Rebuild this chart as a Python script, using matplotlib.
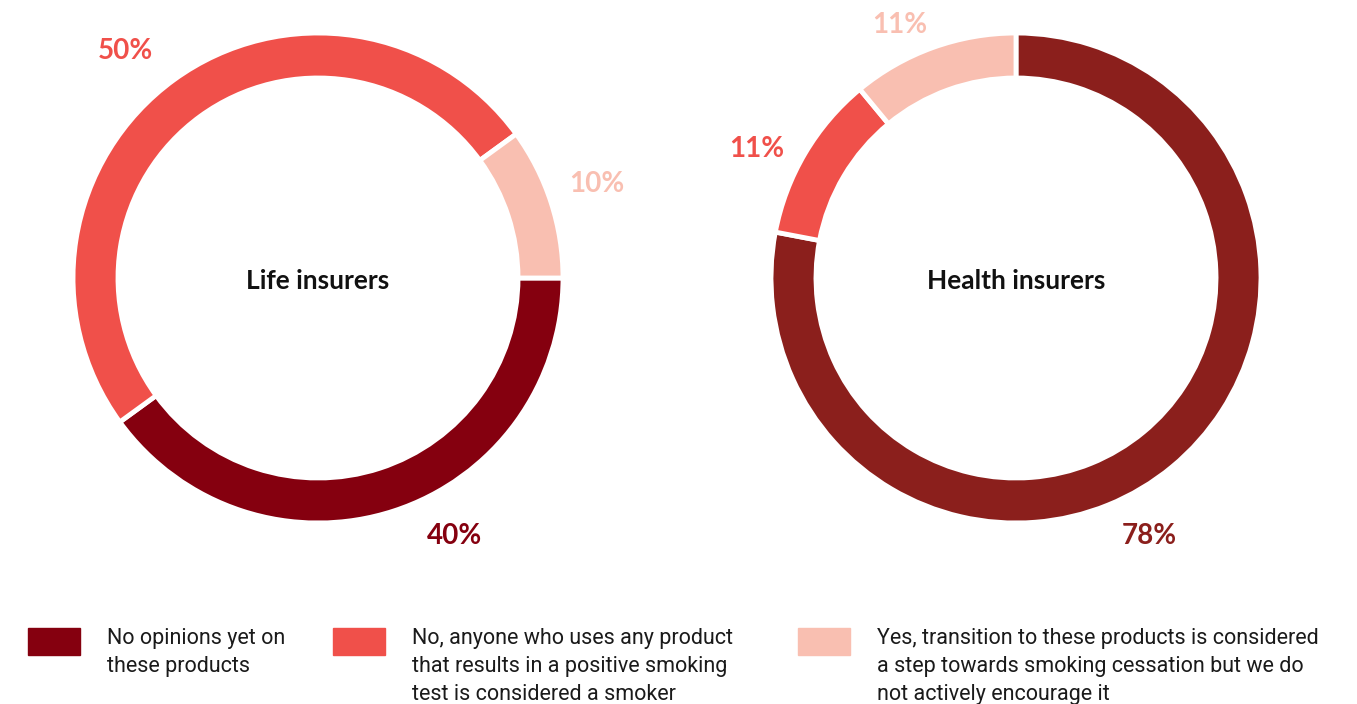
import matplotlib.pyplot as plt
from matplotlib.patches import Rectangle

W, H = 1357, 704

# данные
categories = ['No opinions yet on\nthese products',
              'No, anyone who uses any product\nthat results in a positive smoking\ntest is considered a smoker',
              'Yes, transition to these products is considered\na step towards smoking cessation but we do\nnot actively encourage it']
life_values = [40, 50, 10]
health_values = [78, 11, 11]
life_colors = ['#85000f', '#f0504a', '#f9bfb1']
health_colors = ['#8b1f1c', '#f0504a', '#f9bfb1']

# позиции подписей процентов (пиксели)
life_label_pos = [(455, 536), (125, 51), (597, 184)]
health_label_pos = [(1149, 536), (757, 149), (900, 25)]

plt.rcParams['font.family'] = ['Lato', 'DejaVu Sans']

fig = plt.figure(figsize=(W / 100, H / 100), dpi=100)
ax = fig.add_axes([0, 0, 1, 1])


def donut(values, colors, center, start, title, label_pos):
    cx, cy = center
    ax.pie(values, colors=colors, startangle=start, counterclock=False,
           center=(cx, H - cy), radius=245, frame=True,
           wedgeprops=dict(width=45, edgecolor='white', linewidth=3.5))
    ax.text(cx, H - cy - 3, title, ha='center', va='center',
            fontsize=19, fontweight='bold', color='#111111')
    for v, c, (x, y) in zip(values, colors, label_pos):
        ax.text(x, H - y, f'{v}%', ha='center', va='center',
                fontsize=20, fontweight='bold', color=c)


donut(life_values, life_colors, (318, 278), 0, 'Life insurers', life_label_pos)
donut(health_values, health_colors, (1016, 278), 90, 'Health insurers', health_label_pos)
ax.set_xlim(0, W)
ax.set_ylim(0, H)
ax.set_aspect('equal')
ax.axis('off')

# легенда
leg_x = [28, 333, 798]
for x, c, label in zip(leg_x, life_colors, categories):
    fig.add_artist(Rectangle((x / W, 1 - 655 / H), 52 / W, 27 / H,
                             transform=fig.transFigure, color=c))
    fig.text((x + 79) / W, 1 - 628 / H, label, ha='left', va='top',
             fontsize=15.5, color='#1a1a1a', linespacing=1.43,
             family=['Roboto', 'DejaVu Sans'])

fig.savefig('out.png', dpi=100)
